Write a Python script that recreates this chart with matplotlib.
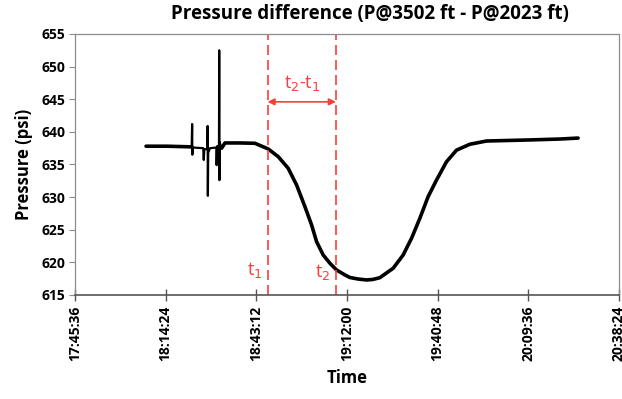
import matplotlib.pyplot as plt
from matplotlib.ticker import FixedLocator, FuncFormatter

# Readings taken off the chart (clock time, psi).
times = ["18:08:10", "18:15:00", "18:22:40", "18:22:48", "18:22:52", "18:22:58",
         "18:26:20", "18:26:30", "18:26:40", "18:27:40", "18:27:44", "18:27:48",
         "18:27:54", "18:28:30", "18:30:30", "18:30:35", "18:30:45", "18:31:20",
         "18:31:24", "18:31:28", "18:31:34", "18:32:10", "18:33:14", "18:38:00",
         "18:42:45", "18:46:58", "18:50:09", "18:53:19", "18:55:59", "18:58:38",
         "19:00:45", "19:02:20", "19:04:26", "19:06:34", "19:08:41", "19:11:20",
         "19:12:55", "19:15:27", "19:18:13", "19:20:13", "19:22:26", "19:26:40",
         "19:29:50", "19:32:30", "19:35:08", "19:37:46", "19:40:26", "19:43:37",
         "19:46:47", "19:51:01", "19:56:19", "20:09:01", "20:19:35", "20:25:24"]
pressure = [637.8, 637.8, 637.7, 641.2, 636.5, 637.6,
            637.5, 635.7, 637.3, 637.4, 640.9, 630.2,
            636.8, 637.5, 637.6, 634.9, 637.8, 637.9,
            652.5, 632.6, 638.4, 637.5, 638.3, 638.3,
            638.25, 637.38, 636.2, 634.42, 631.86, 628.53,
            625.73, 623.17, 621.13, 619.86, 618.83, 618.07,
            617.68, 617.45, 617.3, 617.38, 617.65, 619.1,
            621.13, 623.69, 626.75, 630.07, 632.62, 635.43,
            637.2, 638.1, 638.6, 638.75, 638.9, 639.05]

# the noisy part (thin spikes) runs between these two readings
noise_start = "18:22:40"
noise_end = "18:32:10"

t1_time = "18:46:45"
t2_time = "19:08:28"

x_ticks = [0.74, 0.76, 0.78, 0.80, 0.82, 0.84, 0.86]  # fraction of a day
y_ticks = [615, 620, 625, 630, 635, 640, 645, 650, 655]


def day_frac(s):
    h, m, sec = [int(v) for v in s.split(":")]
    return (h * 3600 + m * 60 + sec) / 86400.0


def clock(v, pos=None):
    total = int(round(v * 86400))
    return "%d:%02d:%02d" % (total // 3600, (total % 3600) // 60, total % 60)


plt.rcParams['font.family'] = ['Open Sans', 'DejaVu Sans']
red = '#ff3c3c'

fig = plt.figure(figsize=(6.22, 3.99), dpi=100)
ax = fig.add_axes([0.1206, 0.2607, 0.8746, 0.6541])

x = [day_frac(t) for t in times]
a = times.index(noise_start)
b = times.index(noise_end)
ax.plot(x[:a + 1], pressure[:a + 1], color='black', lw=2.6, solid_capstyle='round')
ax.plot(x[a:b + 1], pressure[a:b + 1], color='black', lw=1.6, solid_joinstyle='round')
ax.plot(x[b:], pressure[b:], color='black', lw=2.6, solid_joinstyle='round',
        solid_capstyle='round')

t1 = day_frac(t1_time)
t2 = day_frac(t2_time)
for t in (t1, t2):
    ax.axvline(t, color=red, lw=1.2, ls=(0, (6, 3)))
ax.annotate("", xy=(t1, 644.6), xytext=(t2, 644.6),
            arrowprops=dict(arrowstyle='<|-|>', color=red, lw=1.2,
                            mutation_scale=10, shrinkA=0, shrinkB=0))
ax.text((t1 + t2) / 2, 646.0, "t$_2$-t$_1$", color=red, fontsize=13,
        ha='center', va='bottom')
ax.text(t1 - 0.0012, 617.3, "t$_1$", color=red, fontsize=13, ha='right', va='bottom')
ax.text(t2 - 0.0012, 617.0, "t$_2$", color=red, fontsize=13, ha='right', va='bottom')

ax.set_xlim(0.74, 0.86)
ax.set_ylim(615, 655)
ax.xaxis.set_major_locator(FixedLocator(x_ticks))
ax.xaxis.set_major_formatter(FuncFormatter(clock))
ax.set_yticks(y_ticks)

for side in ('top', 'right', 'left'):
    ax.spines[side].set_color('#8c8c8c')
    ax.spines[side].set_linewidth(0.9)
ax.spines['bottom'].set_color('#555555')
ax.spines['bottom'].set_linewidth(1.2)

ax.tick_params(axis='x', direction='inout', length=9, width=1, color='#555555',
               labelrotation=90, labelsize=10, pad=3)
ax.tick_params(axis='y', direction='out', length=4, width=0.8, color='#8c8c8c',
               labelsize=10, pad=3)
for lab in ax.get_xticklabels() + ax.get_yticklabels():
    lab.set_fontweight('bold')

ax.set_xlabel("Time", fontsize=12, fontweight='bold', labelpad=6)
ax.set_ylabel("Pressure (psi)", fontsize=12, fontweight='bold', labelpad=6)
fig.text(0.595, 0.965, "Pressure difference (P@3502 ft - P@2023 ft)",
         fontsize=13.5, fontweight='bold', ha='center', va='center')

fig.savefig("out.png", dpi=100)
